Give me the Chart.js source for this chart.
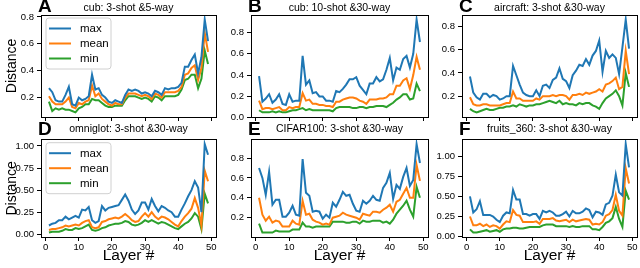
<!DOCTYPE html>
<html><head><meta charset="utf-8">
<script src="https://cdn.jsdelivr.net/npm/chart.js@4/dist/chart.umd.min.js"></script>
<style>
html,body{margin:0;padding:0;background:#fff;width:640px;height:268px;overflow:hidden;position:relative}
canvas{position:absolute}
.lbl{position:absolute;font-family:"Liberation Sans",Arial,sans-serif;color:#000;white-space:nowrap}
.ttl{font-size:10.5px;transform:translate(-50%,-50%)}
.let{font-size:19px;font-weight:bold;line-height:1}
</style></head><body>
<script>
// ---------- data ----------
const layers = [1,2,3,4,5,6,7,8,9,10,11,12,13,14,15,16,17,18,19,20,21,22,23,24,25,26,27,28,29,30,31,32,33,34,35,36,37,38,39,40,41,42,43,44,45,46,47,48,49];
const seriesNames = ['max','mean','min'];
const xTicks = [0,10,20,30,40,50];

const aMax  = [0.27,0.24,0.18,0.17,0.17,0.22,0.28,0.15,0.14,0.20,0.18,0.19,0.21,0.37,0.26,0.27,0.22,0.20,0.17,0.16,0.18,0.17,0.16,0.22,0.26,0.25,0.26,0.25,0.23,0.24,0.23,0.21,0.25,0.24,0.22,0.27,0.26,0.27,0.27,0.28,0.31,0.43,0.43,0.48,0.52,0.38,0.50,0.78,0.62];
const aMean = [0.21,0.17,0.15,0.15,0.15,0.17,0.20,0.13,0.12,0.16,0.15,0.17,0.18,0.29,0.21,0.23,0.19,0.17,0.15,0.14,0.16,0.15,0.15,0.20,0.23,0.23,0.23,0.22,0.21,0.22,0.21,0.19,0.23,0.22,0.20,0.24,0.24,0.24,0.24,0.25,0.28,0.37,0.38,0.42,0.44,0.33,0.42,0.68,0.54];
const aMin  = [0.17,0.10,0.12,0.11,0.12,0.11,0.11,0.10,0.09,0.12,0.13,0.15,0.15,0.19,0.18,0.18,0.16,0.14,0.13,0.13,0.14,0.14,0.14,0.18,0.21,0.21,0.21,0.20,0.19,0.20,0.19,0.17,0.21,0.20,0.18,0.21,0.21,0.21,0.21,0.22,0.26,0.33,0.34,0.37,0.37,0.27,0.34,0.55,0.45];

const bMax  = [0.39,0.15,0.18,0.22,0.14,0.17,0.22,0.13,0.12,0.22,0.15,0.16,0.16,0.58,0.31,0.35,0.23,0.24,0.20,0.20,0.16,0.16,0.15,0.25,0.24,0.27,0.31,0.36,0.36,0.38,0.30,0.26,0.22,0.32,0.32,0.38,0.34,0.36,0.45,0.56,0.35,0.47,0.45,0.55,0.58,0.47,0.60,0.92,0.71];
const bMean = [0.16,0.08,0.09,0.09,0.08,0.09,0.10,0.07,0.07,0.10,0.09,0.10,0.10,0.23,0.16,0.17,0.13,0.13,0.12,0.12,0.11,0.11,0.10,0.15,0.15,0.17,0.18,0.19,0.19,0.18,0.16,0.15,0.13,0.17,0.17,0.17,0.18,0.18,0.19,0.22,0.22,0.30,0.30,0.35,0.37,0.27,0.40,0.57,0.45];
const bMin  = [0.07,0.05,0.05,0.05,0.06,0.05,0.06,0.05,0.05,0.06,0.07,0.07,0.08,0.09,0.07,0.08,0.07,0.07,0.07,0.07,0.07,0.07,0.06,0.09,0.10,0.10,0.10,0.10,0.09,0.09,0.10,0.10,0.09,0.10,0.10,0.11,0.11,0.11,0.10,0.12,0.14,0.17,0.19,0.22,0.22,0.17,0.18,0.32,0.25];

const cMax  = [0.37,0.23,0.19,0.17,0.22,0.22,0.19,0.21,0.20,0.17,0.18,0.20,0.20,0.46,0.38,0.30,0.23,0.21,0.20,0.20,0.25,0.20,0.29,0.30,0.27,0.34,0.36,0.44,0.35,0.33,0.27,0.38,0.42,0.47,0.46,0.52,0.47,0.55,0.59,0.68,0.41,0.59,0.53,0.56,0.53,0.39,0.62,0.86,0.61];
const cMean = [0.19,0.13,0.12,0.12,0.13,0.13,0.12,0.12,0.12,0.12,0.13,0.14,0.14,0.24,0.18,0.18,0.16,0.16,0.16,0.16,0.18,0.17,0.20,0.20,0.20,0.21,0.20,0.21,0.21,0.20,0.17,0.21,0.21,0.22,0.21,0.23,0.22,0.23,0.24,0.26,0.24,0.30,0.31,0.33,0.36,0.26,0.28,0.59,0.39];
const cMin  = [0.09,0.07,0.06,0.07,0.08,0.09,0.08,0.08,0.09,0.10,0.10,0.11,0.11,0.12,0.11,0.13,0.12,0.11,0.12,0.12,0.13,0.13,0.14,0.15,0.16,0.15,0.14,0.16,0.13,0.14,0.13,0.13,0.12,0.14,0.13,0.14,0.14,0.12,0.11,0.09,0.14,0.18,0.20,0.22,0.25,0.20,0.12,0.40,0.28];

const dMax  = [0.10,0.12,0.13,0.16,0.16,0.20,0.17,0.19,0.21,0.19,0.28,0.27,0.31,0.16,0.13,0.15,0.32,0.27,0.30,0.31,0.32,0.33,0.39,0.45,0.38,0.28,0.23,0.27,0.36,0.36,0.28,0.40,0.32,0.26,0.32,0.30,0.27,0.25,0.20,0.20,0.28,0.35,0.43,0.50,0.60,0.53,0.25,1.02,0.90];
const dMean = [0.05,0.06,0.06,0.07,0.08,0.10,0.09,0.10,0.11,0.10,0.13,0.15,0.16,0.08,0.07,0.08,0.14,0.15,0.17,0.18,0.19,0.18,0.20,0.23,0.20,0.16,0.14,0.15,0.20,0.24,0.20,0.25,0.20,0.17,0.20,0.19,0.17,0.14,0.11,0.09,0.15,0.20,0.24,0.29,0.41,0.30,0.10,0.72,0.60];
const dMin  = [0.02,0.03,0.03,0.03,0.04,0.06,0.05,0.05,0.07,0.06,0.07,0.09,0.11,0.05,0.04,0.05,0.07,0.08,0.10,0.11,0.12,0.12,0.13,0.15,0.14,0.11,0.10,0.11,0.13,0.16,0.14,0.16,0.14,0.12,0.14,0.13,0.11,0.09,0.07,0.06,0.09,0.12,0.14,0.18,0.24,0.20,0.06,0.46,0.35];

const eMax  = [0.70,0.60,0.43,0.66,0.33,0.38,0.38,0.21,0.21,0.25,0.32,0.23,0.22,0.79,0.45,0.42,0.26,0.27,0.26,0.19,0.23,0.20,0.35,0.31,0.38,0.46,0.42,0.43,0.34,0.27,0.26,0.37,0.34,0.37,0.42,0.38,0.37,0.50,0.55,0.65,0.39,0.53,0.49,0.61,0.70,0.52,0.58,0.94,0.75];
const eMean = [0.40,0.23,0.17,0.21,0.15,0.17,0.16,0.11,0.11,0.11,0.17,0.14,0.13,0.37,0.23,0.24,0.18,0.16,0.15,0.13,0.14,0.13,0.20,0.21,0.22,0.25,0.23,0.22,0.21,0.20,0.18,0.24,0.23,0.22,0.26,0.26,0.25,0.28,0.30,0.33,0.26,0.36,0.38,0.44,0.50,0.40,0.40,0.73,0.57];
const eMin  = [0.14,0.05,0.05,0.05,0.05,0.07,0.06,0.06,0.06,0.06,0.08,0.08,0.08,0.15,0.11,0.11,0.10,0.11,0.11,0.11,0.11,0.11,0.16,0.16,0.16,0.16,0.15,0.15,0.16,0.16,0.14,0.17,0.16,0.16,0.17,0.17,0.17,0.15,0.16,0.14,0.18,0.24,0.28,0.32,0.37,0.28,0.21,0.51,0.40];

const fMax  = [0.50,0.30,0.34,0.44,0.27,0.27,0.27,0.25,0.21,0.18,0.26,0.30,0.29,0.58,0.46,0.46,0.28,0.28,0.26,0.28,0.28,0.22,0.32,0.30,0.32,0.30,0.26,0.26,0.28,0.31,0.25,0.32,0.29,0.29,0.31,0.35,0.33,0.24,0.31,0.30,0.27,0.40,0.42,0.51,0.77,0.55,0.51,1.15,0.86];
const fMean = [0.25,0.14,0.14,0.16,0.13,0.15,0.12,0.14,0.13,0.10,0.15,0.19,0.18,0.33,0.27,0.26,0.18,0.18,0.18,0.18,0.19,0.16,0.22,0.22,0.22,0.23,0.20,0.19,0.20,0.21,0.18,0.21,0.19,0.20,0.21,0.22,0.21,0.15,0.16,0.15,0.18,0.26,0.28,0.33,0.52,0.32,0.26,0.85,0.66];
const fMin  = [0.09,0.05,0.05,0.06,0.07,0.08,0.06,0.07,0.08,0.06,0.09,0.10,0.10,0.11,0.11,0.10,0.10,0.11,0.12,0.12,0.12,0.12,0.14,0.15,0.15,0.15,0.13,0.13,0.13,0.13,0.12,0.13,0.12,0.12,0.13,0.13,0.13,0.09,0.09,0.08,0.12,0.17,0.19,0.23,0.37,0.22,0.12,0.57,0.46];

const yTicksA = [0.2,0.4,0.6,0.8];
const yTicksB = [0.0,0.2,0.4,0.6,0.8];
const yTicksC = [0.2,0.4,0.6,0.8];
const yTicksD = [0.0,0.25,0.5,0.75,1.0];
const yTicksE = [0.2,0.4,0.6,0.8];
const yTicksF = [0.0,0.25,0.5,0.75,1.0];

const titles = ['cub: 3-shot &5-way','cub: 10-shot &30-way','aircraft: 3-shot &30-way','omniglot: 3-shot &30-way','CIFAR100: 3-shot &30-way','fruits_360: 3-shot &30-way'];
const letters = ['A','B','C','D','E','F'];
const colors = ['#1f77b4','#ff7f0e','#2ca02c'];

// ---------- layout ----------
const FONT = '"Liberation Sans", Arial, sans-serif';
const cols = [{cx:0,cw:228,fl:41,fr:216},{cx:228,cw:208,fl:251,fr:428},{cx:436,cw:204,fl:462,fr:637}];
const rows = [{cy:0,ch:131,ft:15,fb:117,ty:6.5,ly:-4},{cy:131,ch:137,ft:136,fb:237,ty:127.5,ly:119}];

const panels = [
  {s:[aMax,aMean,aMin], yt:yTicksA, dec:1, col:0, row:0, legend:true},
  {s:[bMax,bMean,bMin], yt:yTicksB, dec:1, col:1, row:0},
  {s:[cMax,cMean,cMin], yt:yTicksC, dec:1, col:2, row:0},
  {s:[dMax,dMean,dMin], yt:yTicksD, dec:2, col:0, row:1, legend:true},
  {s:[eMax,eMean,eMin], yt:yTicksE, dec:1, col:1, row:1},
  {s:[fMax,fMean,fMin], yt:yTicksF, dec:2, col:2, row:1}
];

function alignPx(p){ return Math.round(p - 0.5) + 0.5; }

const framePlugin = {
  id:'frame',
  afterDraw(chart){
    const a = chart.chartArea, ctx = chart.ctx;
    ctx.save();
    ctx.strokeStyle = '#000'; ctx.lineWidth = 1;
    const l = alignPx(a.left), r = alignPx(a.right), t = alignPx(a.top), b = alignPx(a.bottom);
    ctx.strokeRect(l, t, r - l, b - t);
    ctx.restore();
  }
};

const legendPlugin = {
  id:'boxlegend',
  afterDraw(chart, args, opts){
    if (!opts.show) return;
    const a = chart.chartArea, ctx = chart.ctx;
    const x = a.left + 5, y = a.top + 3, w = 65, h = 51, r = 3;
    ctx.save();
    ctx.beginPath();
    ctx.moveTo(x + r, y); ctx.lineTo(x + w - r, y); ctx.arcTo(x + w, y, x + w, y + r, r);
    ctx.lineTo(x + w, y + h - r); ctx.arcTo(x + w, y + h, x + w - r, y + h, r);
    ctx.lineTo(x + r, y + h); ctx.arcTo(x, y + h, x, y + h - r, r);
    ctx.lineTo(x, y + r); ctx.arcTo(x, y, x + r, y, r);
    ctx.closePath();
    ctx.fillStyle = 'rgba(255,255,255,0.8)'; ctx.fill();
    ctx.strokeStyle = '#d0d0d0'; ctx.lineWidth = 1; ctx.stroke();
    ctx.font = '11.5px ' + FONT; ctx.textBaseline = 'middle'; ctx.fillStyle = '#000';
    chart.data.datasets.forEach((ds, i) => {
      const yy = a.top + 13.5 + 15 * i;
      ctx.strokeStyle = ds.borderColor; ctx.lineWidth = 2;
      ctx.beginPath(); ctx.moveTo(a.left + 8, yy); ctx.lineTo(a.left + 30, yy); ctx.stroke();
      ctx.fillText(ds.label, a.left + 39, yy + 0.5);
    });
    ctx.restore();
  }
};

panels.forEach((p, idx) => {
  const c = cols[p.col], rw = rows[p.row];
  const cv = document.createElement('canvas');
  cv.width = c.cw; cv.height = rw.ch;
  cv.style.left = c.cx + 'px'; cv.style.top = rw.cy + 'px';
  cv.style.width = c.cw + 'px'; cv.style.height = rw.ch + 'px';
  document.body.appendChild(cv);

  const all = [].concat(p.s[0], p.s[1], p.s[2]);
  const lo = Math.min(...all), hi = Math.max(...all), pad = (hi - lo) * 0.05;

  new Chart(cv, {
    type:'line',
    data:{
      labels: layers,
      datasets: p.s.map((vals, i) => ({
        label: seriesNames[i],
        data: vals.map((v, k) => ({x: layers[k], y: v})),
        borderColor: colors[i], backgroundColor: colors[i],
        borderWidth: 2, pointRadius: 0, tension: 0, fill: false
      }))
    },
    options:{
      responsive:false, animation:false, devicePixelRatio:1,
      layout:{padding:{left:0, top: rw.ft - rw.cy, right: c.cx + c.cw - c.fr, bottom:0}},
      events: [],
      plugins:{legend:{display:false}, tooltip:{enabled:false}, title:{display:false}, boxlegend:{show:!!p.legend}},
      scales:{
        x:{
          type:'linear', min:-1.4, max:51.4,
          afterBuildTicks: s => { s.ticks = xTicks.map(v => ({value:v})); },
          afterFit: s => { s.height = rw.cy + rw.ch - rw.fb; },
          grid:{drawOnChartArea:false, drawTicks:true, tickLength:4, color:'#000', lineWidth:1},
          border:{display:false},
          ticks:{padding:1, maxRotation:0, autoSkip:false, color:'#000', font:{size:9.5, family:FONT},
                 callback: v => p.row === 1 ? String(v) : ''},
          title:{display: p.row === 1, text:'Layer #', color:'#000', font:{size:15.5, family:FONT}, padding:{top:0, bottom:3}}
        },
        y:{
          type:'linear', min: lo - pad, max: hi + pad,
          afterBuildTicks: s => { s.ticks = p.yt.map(v => ({value:v})); },
          afterFit: s => { s.width = c.fl - c.cx; },
          grid:{drawOnChartArea:false, drawTicks:true, tickLength:4, color:'#000', lineWidth:1},
          border:{display:false},
          ticks:{padding:3, autoSkip:false, color:'#000', font:{size:9.5, family:FONT},
                 callback: v => Number(v).toFixed(p.dec)},
          title:{display: p.col === 0, text:'Distance', color:'#000', font:{size:14, family:FONT}, padding:{top:4, bottom:0}}
        }
      }
    },
    plugins:[framePlugin, legendPlugin]
  });

  const t = document.createElement('div');
  t.className = 'lbl ttl'; t.textContent = titles[idx];
  t.style.left = ((c.fl + c.fr) / 2) + 'px'; t.style.top = rw.ty + 'px';
  document.body.appendChild(t);

  const L = document.createElement('div');
  L.className = 'lbl let'; L.textContent = letters[idx];
  L.style.left = (c.fl - 3) + 'px'; L.style.top = rw.ly + 'px';
  document.body.appendChild(L);
});
</script>
</body></html>
